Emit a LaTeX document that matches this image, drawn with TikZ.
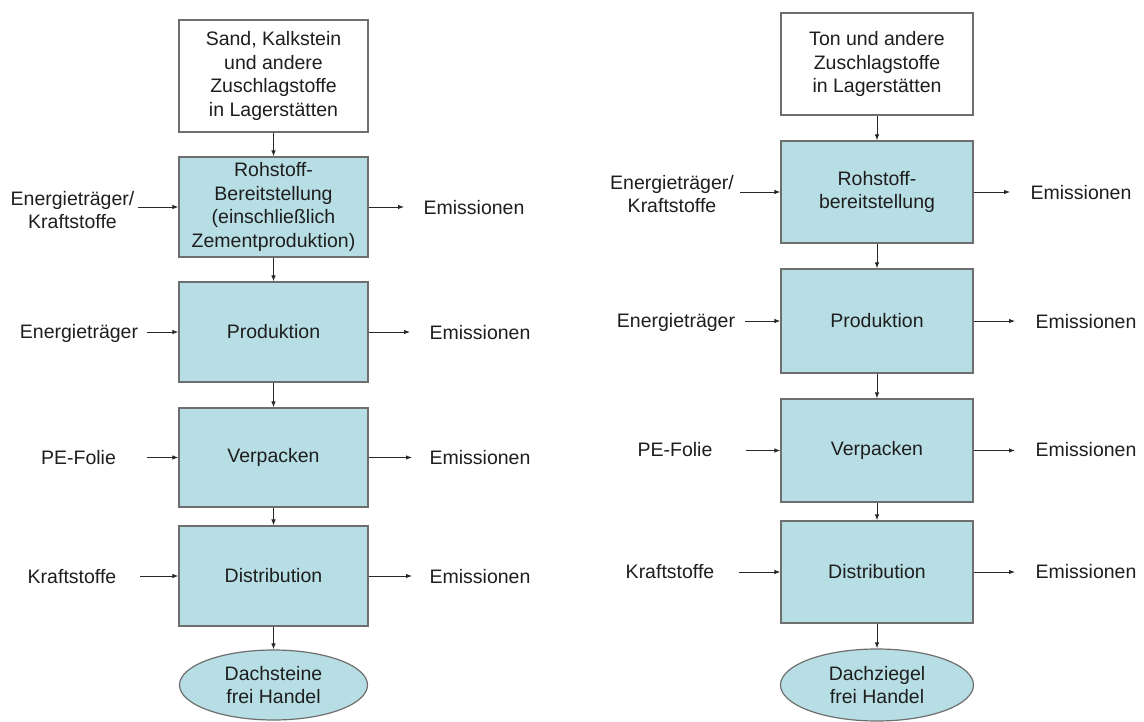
\documentclass[tikz,border=0pt]{standalone}
\usepackage{fontspec}
\setmainfont{Liberation Sans}
\usetikzlibrary{shapes.geometric,arrows.meta}
\definecolor{boxfill}{RGB}{183,222,228}
\definecolor{boxline}{RGB}{110,110,110}
\definecolor{arr}{RGB}{40,40,40}
\definecolor{txt}{RGB}{30,30,30}
\begin{document}
\begin{tikzpicture}[x=1pt,y=-1pt,
  every node/.style={font=\fontsize{19.5}{23.5}\selectfont, align=center, inner sep=0pt, text=txt},
  proc/.style={draw=boxline, line width=1.2pt, fill=boxfill, rectangle},
  src/.style={draw=boxline, line width=1.2pt, fill=white, rectangle},
  sink/.style={draw=boxline, line width=1.2pt, fill=boxfill, ellipse},
  flow/.style={draw=arr, line width=0.9pt, -{Latex[length=6pt,width=4.5pt]}}]
\useasboundingbox[fill=white] (0,0) rectangle (1144,722);

% ---------------- left column ----------------
\node[src, minimum width=189pt, minimum height=112pt] (topL) at (273.5,76)
  {Sand, Kalkstein\\ und andere\\Zuschlagstoffe\\in Lagerstätten};
\node[proc, minimum width=189pt, minimum height=100pt] (rohL) at (273.5,207)
  {Rohstoff-\\Bereitstellung\\(einschließlich\\Zementproduktion)};
\node[proc, minimum width=189pt, minimum height=100pt] (prodL) at (273.5,332) {Produktion};
\node[proc, minimum width=189pt, minimum height=99pt] (verpL) at (273.5,457.5) {Verpacken};
\node[proc, minimum width=189pt, minimum height=100pt] (distL) at (273.5,576) {Distribution};
\node[sink, minimum width=188pt, minimum height=70pt] (endL) at (273.5,685) {Dachsteine\\frei Handel};

\draw[flow] (topL) -- (rohL);
\draw[flow] (rohL) -- (prodL);
\draw[flow] (prodL) -- (verpL);
\draw[flow] (verpL) -- (distL);
\draw[flow] (distL) -- (endL);

\node (inL1) at (72.5,210) {Energieträger/\\Kraftstoffe};
\node (inL2) at (79,333) {Energieträger};
\node (inL3) at (78.5,458) {PE-Folie};
\node (inL4) at (72,577) {Kraftstoffe};
\coordinate (aL1) at (138,207);
\coordinate (aL2) at (147,332);
\coordinate (aL3) at (147,457.5);
\coordinate (aL4) at (140,576);
\draw[flow] (aL1) -- (rohL.west);
\draw[flow] (aL2) -- (prodL.west);
\draw[flow] (aL3) -- (verpL.west);
\draw[flow] (aL4) -- (distL.west);

\node (emL1) at (474,208) {Emissionen};
\node (emL2) at (480,333) {Emissionen};
\node (emL3) at (480,458) {Emissionen};
\node (emL4) at (480,577) {Emissionen};
\coordinate (bL1) at (404,207);
\coordinate (bL2) at (410,332);
\coordinate (bL3) at (412,457.5);
\coordinate (bL4) at (412,576);
\draw[flow] (rohL.east) -- (bL1);
\draw[flow] (prodL.east) -- (bL2);
\draw[flow] (verpL.east) -- (bL3);
\draw[flow] (distL.east) -- (bL4);

% ---------------- right column ----------------
\node[src, minimum width=192pt, minimum height=102pt] (topR) at (877,64)
  {Ton und andere\\Zuschlagstoffe\\in Lagerstätten};
\node[proc, minimum width=192pt, minimum height=102pt] (rohR) at (877,192)
  {Rohstoff-\\bereitstellung};
\node[proc, minimum width=192pt, minimum height=104pt] (prodR) at (877,321) {Produktion};
\node[proc, minimum width=192pt, minimum height=103pt] (verpR) at (877,450.5) {Verpacken};
\node[proc, minimum width=192pt, minimum height=102pt] (distR) at (877,572) {Distribution};
\node[sink, minimum width=193pt, minimum height=72pt] (endR) at (877,685) {Dachziegel\\frei Handel};

\draw[flow] (topR) -- (rohR);
\draw[flow] (rohR) -- (prodR);
\draw[flow] (prodR) -- (verpR);
\draw[flow] (verpR) -- (distR);
\draw[flow] (distR) -- (endR);

\node (inR1) at (672,194) {Energieträger/\\Kraftstoffe};
\node (inR2) at (676,322) {Energieträger};
\node (inR3) at (675,450) {PE-Folie};
\node (inR4) at (670,572) {Kraftstoffe};
\coordinate (aR1) at (740,192);
\coordinate (aR2) at (745,321);
\coordinate (aR3) at (746,450.5);
\coordinate (aR4) at (739,572);
\draw[flow] (aR1) -- (rohR.west);
\draw[flow] (aR2) -- (prodR.west);
\draw[flow] (aR3) -- (verpR.west);
\draw[flow] (aR4) -- (distR.west);

\node (emR1) at (1081,193) {Emissionen};
\node (emR2) at (1086,322) {Emissionen};
\node (emR3) at (1086,450) {Emissionen};
\node (emR4) at (1086,572) {Emissionen};
\coordinate (bR1) at (1010,192);
\coordinate (bR2) at (1015,321);
\coordinate (bR3) at (1015,450.5);
\coordinate (bR4) at (1015,572);
\draw[flow] (rohR.east) -- (bR1);
\draw[flow] (prodR.east) -- (bR2);
\draw[flow] (verpR.east) -- (bR3);
\draw[flow] (distR.east) -- (bR4);
\end{tikzpicture}
\end{document}
